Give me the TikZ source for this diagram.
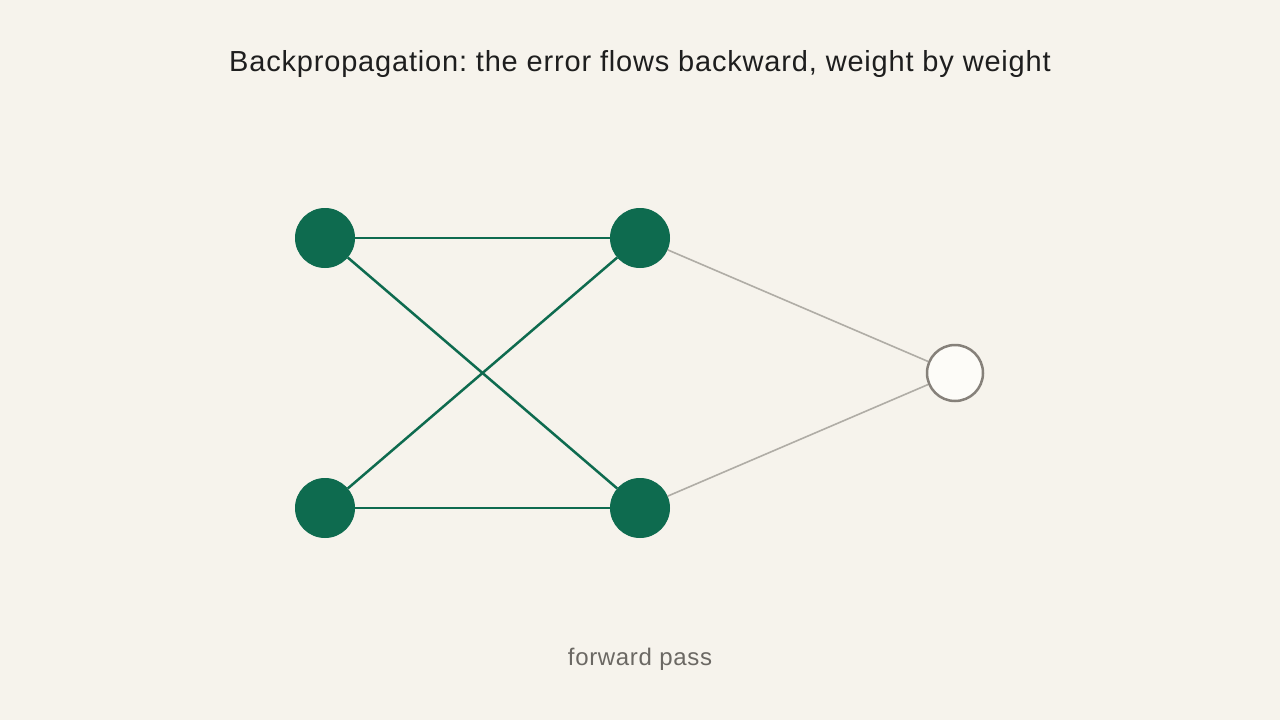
\documentclass[tikz,border=0pt]{standalone}
\usepackage{fontspec}
\setmainfont{Liberation Sans}
\frenchspacing
\definecolor{bg}{HTML}{F6F3EC}
\definecolor{grn}{HTML}{0E6B4F}
\definecolor{gedge}{HTML}{B0ADA6}
\definecolor{ostroke}{HTML}{86817A}
\definecolor{ofill}{HTML}{FDFCF8}
\definecolor{captxt}{HTML}{6B6863}
\definecolor{titletxt}{HTML}{1E1E1E}
\begin{document}
\begin{tikzpicture}[x=1pt,y=-1pt,
  neuron/.style={circle,fill=grn,draw=grn,line width=1pt,minimum size=59pt,inner sep=0pt},
  outneuron/.style={circle,fill=ofill,draw=ostroke,line width=2.5pt,minimum size=56pt,inner sep=0pt},
  gwire/.style={draw=grn,line width=2.5pt},
  grey/.style={draw=gedge,line width=1.6pt}]
\fill[bg] (0,0) rectangle (1280,720);
\useasboundingbox (0,0) rectangle (1280,720);
\node[neuron] (i1) at (325,238) {};
\node[neuron] (i2) at (325,508) {};
\node[neuron] (h1) at (640,238) {};
\node[neuron] (h2) at (640,508) {};
\node[outneuron] (o) at (955,373) {};
\draw[gwire] (i1) -- (h1);
\draw[gwire] (i1) -- (h2);
\draw[gwire] (i2) -- (h1);
\draw[gwire] (i2) -- (h2);
\draw[grey] (h1) -- (o);
\draw[grey] (h2) -- (o);
\node[text=titletxt,font=\fontsize{29}{33}\selectfont\addfontfeatures{LetterSpace=2.8}] (title) at (640,64) {Backpropagation: the error flows backward, weight by weight};
\node[text=captxt,font=\fontsize{24}{28}\selectfont\addfontfeatures{LetterSpace=2.8}] (cap) at (640,659) {forward pass};
\end{tikzpicture}
\end{document}
